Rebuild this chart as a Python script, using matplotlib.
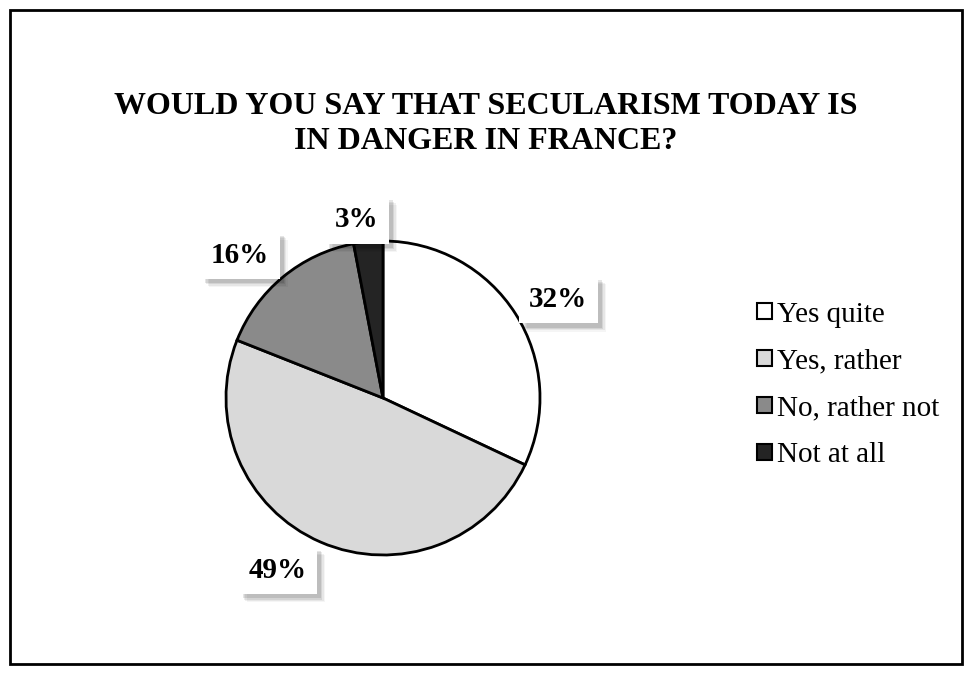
import numpy as np
import matplotlib.pyplot as plt
import matplotlib.patheffects as pe
from matplotlib.patches import Rectangle

plt.rcParams['font.family'] = ['Liberation Serif', 'DejaVu Serif']

# data
categories = ['Yes quite', 'Yes, rather', 'No, rather not', 'Not at all']
shares = [32, 49, 16, 3]
colors = ['#ffffff', '#d9d9d9', '#8a8a8a', '#242424']
# label placement: angle shift from wedge middle (deg), distance in radii
label_shift = [-2.4, -8.5, 4.8, 2.8]
label_dist = [1.29, 1.27, 1.30, 1.165]
title = 'WOULD YOU SAY THAT SECULARISM TODAY IS\nIN DANGER IN FRANCE?'

W, H = 972, 677
fig = plt.figure(figsize=(W / 100, H / 100), dpi=100)
ax = fig.add_axes([0, 0, 1, 1])

cx, cy, R = 383, H - 398, 157
wedges, _ = ax.pie(shares, colors=colors, startangle=90, counterclock=False,
                   center=(cx, cy), radius=R, frame=True,
                   wedgeprops=dict(edgecolor='black', linewidth=2))
ax.set_xlim(0, W)
ax.set_ylim(0, H)
ax.set_aspect('equal')
ax.axis('off')

# outer frame
ax.add_patch(Rectangle((10, 13), 952, 654, fill=False, lw=2, ec='black'))

shadow = [pe.SimplePatchShadow(offset=(o, -o), shadow_rgbFace='black', alpha=a)
          for o, a in [(6, 0.04), (5, 0.06), (4, 0.08), (3, 0.1)]] + [pe.Normal()]

for w, val, s, d in zip(wedges, shares, label_shift, label_dist):
    ang = np.deg2rad((w.theta1 + w.theta2) / 2 + s)
    x = cx + d * R * np.cos(ang)
    y = cy + d * R * np.sin(ang)
    t = ax.text(x, y, f'{val}%', ha='center', va='center_baseline', fontsize=21,
                fontweight='bold',
                bbox=dict(boxstyle='square,pad=0.35', fc='white', ec='none'))
    t.get_bbox_patch().set_path_effects(shadow)

fig.text(0.5, 1 - 124 / H, title, ha='center', va='center', fontsize=23,
         fontweight='bold', linespacing=1.3)

leg = fig.legend(wedges, categories, loc='center left',
                 bbox_to_anchor=(757 / W, 1 - 385 / H), frameon=False,
                 fontsize=21, handlelength=0.5, handleheight=0.5,
                 handletextpad=0.2, labelspacing=0.72, borderpad=0,
                 borderaxespad=0)
for h in leg.legend_handles:
    h.set_linewidth(1.5)

fig.savefig('out.png', dpi=100)
